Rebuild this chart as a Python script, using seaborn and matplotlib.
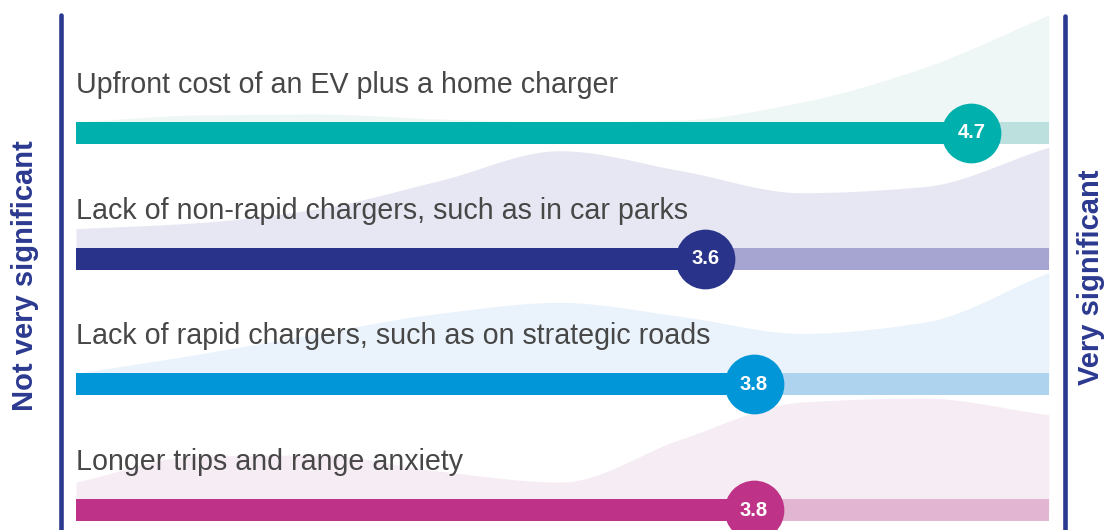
import numpy as np
import matplotlib
matplotlib.use("Agg")
import matplotlib.pyplot as plt
from matplotlib.lines import Line2D
import seaborn as sns

# --- data -------------------------------------------------------------
barriers = [
    "Upfront cost of an EV plus a home charger",
    "Lack of non-rapid chargers, such as in car parks",
    "Lack of rapid chargers, such as on strategic roads",
    "Longer trips and range anxiety",
]
mean_scores = [4.7, 3.6, 3.8, 3.8]
score_labels = ["4.7", "3.6", "3.8", "3.8"]

# shape of the response spread behind each bar, read at scores 1, 1.5 ... 5
spread_points = [1.0, 1.5, 2.0, 2.5, 3.0, 3.5, 4.0, 4.5, 5.0]
spread_upfront = [0, 7, 8, 3, 0, 2, 20, 54, 105]
spread_nonrapid = [19, 25, 39, 67, 97, 77, 55, 61, 99]
spread_rapid = [0, 19, 40, 60, 71, 57, 40, 51, 99]
spread_trips = [17, 43, 44, 28, 17, 60, 97, 101, 85]
spreads = [spread_upfront, spread_nonrapid, spread_rapid, spread_trips]

low_label = "Not very significant"
high_label = "Very significant"

dark_colors = ["#00b0ad", "#283389", "#0096d7", "#be3387"]
track_colors = ["#bce0de", "#a6a4d0", "#aed3ee", "#e2b6d3"]
shade_colors = ["#eef7f6", "#e7e7f3", "#eaf3fb", "#f6ecf4"]
navy = "#2b3990"


def smooth(xk, yk, xs):
    # monotone cubic (pchip style) so the humps stay rounded without overshoot
    xk = np.asarray(xk, float)
    yk = np.asarray(yk, float)
    h = np.diff(xk)
    d = np.diff(yk) / h
    m = np.zeros_like(yk)
    for i in range(1, len(xk) - 1):
        if d[i - 1] * d[i] > 0:
            w1 = 2 * h[i] + h[i - 1]
            w2 = h[i] + 2 * h[i - 1]
            m[i] = (w1 + w2) / (w1 / d[i - 1] + w2 / d[i])
    m[0], m[-1] = d[0], d[-1]
    idx = np.clip(np.searchsorted(xk, xs) - 1, 0, len(h) - 1)
    t = (xs - xk[idx]) / h[idx]
    return ((2 * t**3 - 3 * t**2 + 1) * yk[idx]
            + (t**3 - 2 * t**2 + t) * h[idx] * m[idx]
            + (-2 * t**3 + 3 * t**2) * yk[idx + 1]
            + (t**3 - t**2) * h[idx] * m[idx + 1])


sns.set_theme(style="white")
plt.rcParams["font.family"] = ["Liberation Sans", "DejaVu Sans"]

W, H = 1106, 530
fig = plt.figure(figsize=(W / 100, H / 100), dpi=100)
ax = fig.add_axes([0, 0, 1, 1])

# layout: score 1 sits at x=76px, one score point = 242px; y in pixels from top
x0_px, unit_px = 76, 242
ax.set_xlim(1 - x0_px / unit_px, 1 + (W - x0_px) / unit_px)
ax.set_ylim(H, 0)
ax.axis("off")

track_end = 5.02
row_first, row_gap, bar_h = 133, 125.7, 22
xs = np.linspace(1, track_end, 400)

for i, name in enumerate(barriers):
    yc = row_first + i * row_gap
    top = yc - bar_h / 2
    curve = smooth(spread_points, spreads[i], xs)
    ax.fill_between(xs, yc, top - curve, color=shade_colors[i], lw=0, zorder=1)
    ax.barh(yc, track_end - 1, left=1, height=bar_h, color=track_colors[i],
            lw=0, zorder=2)
    ax.barh(yc, mean_scores[i] - 1, left=1, height=bar_h, color=dark_colors[i],
            lw=0, zorder=3)
    ax.scatter(mean_scores[i], yc, s=1850, color=dark_colors[i], lw=0, zorder=4)
    ax.text(mean_scores[i], yc, score_labels[i], color="white", fontsize=14.5,
            fontweight="bold", ha="center", va="center", zorder=5)
    ax.text(1, yc - 40, name, color="#474747", fontsize=20.6, ha="left",
            va="baseline", zorder=5)

# side rules and end labels
fig.add_artist(Line2D([60.5 / W] * 2, [0, 1 - 15 / H], color=navy, lw=3.3,
                      transform=fig.transFigure))
fig.add_artist(Line2D([1065 / W] * 2, [0, 1 - 16 / H], color=navy, lw=3.3,
                      transform=fig.transFigure))
fig.text(11 / W, 1 - 276 / H, low_label, rotation=90, ha="left", va="center",
         color=navy, fontsize=21, fontweight="bold")
fig.text(1105 / W, 1 - 277 / H, high_label, rotation=90, ha="right", va="center",
         color=navy, fontsize=21, fontweight="bold")

fig.savefig("out.png", dpi=100)
